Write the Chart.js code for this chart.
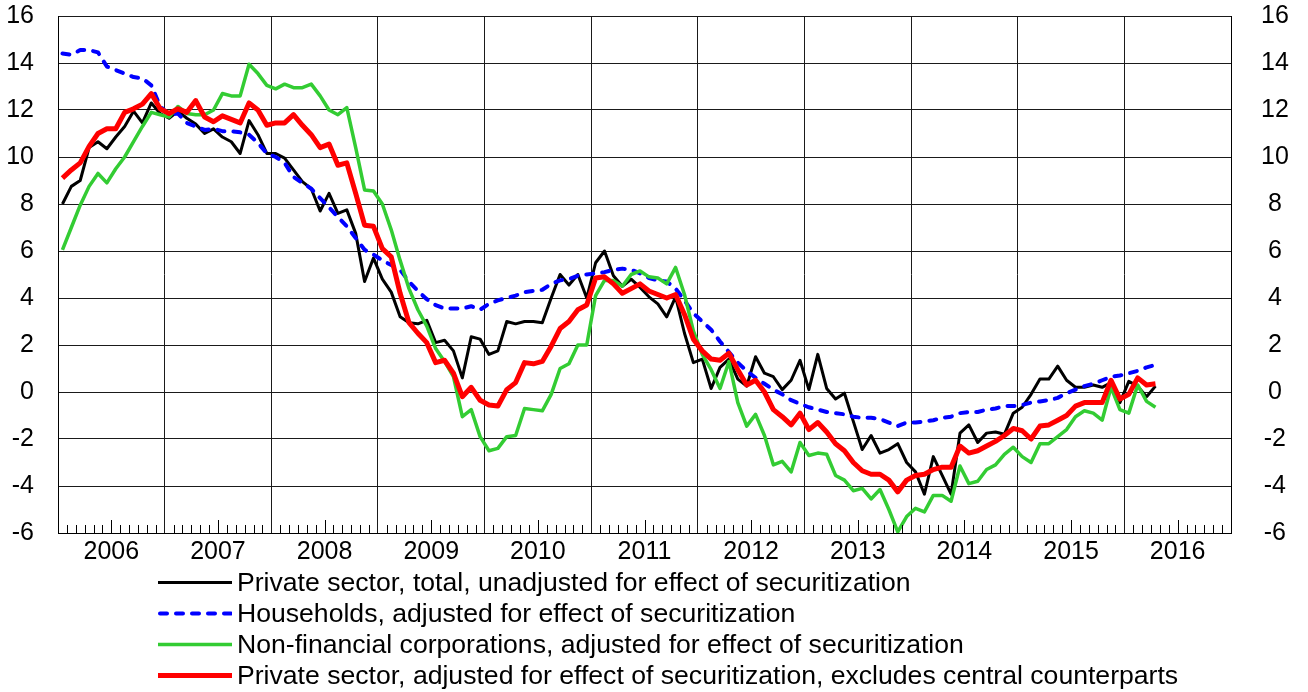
<!DOCTYPE html>
<html>
<head>
<meta charset="utf-8">
<script src="https://cdn.jsdelivr.net/npm/chart.js@4.4.1/dist/chart.umd.min.js"></script>
<style>
  body { margin: 0; background: #fff; }
  #wrap { position: relative; width: 1308px; height: 692px; }
  #c { position: absolute; left: 0; top: 0; }
  #legend { position: absolute; left: 158px; top: 567px; font-family: "Liberation Sans", Arial, sans-serif; font-size: 26.6px; color: #000; }
  #legend .row { display: flex; align-items: center; height: 31px; white-space: nowrap; }
  #legend svg { margin-right: 5px; flex: none; }
</style>
</head>
<body>
<div id="wrap">
  <canvas id="c" width="1308" height="568"></canvas>
  <div id="legend"></div>
</div>
<script>
// ================== DADOS ==================
const years = ["2006", "2007", "2008", "2009", "2010", "2011", "2012", "2013", "2014", "2015", "2016"];
const yTicks = [-6, -4, -2, 0, 2, 4, 6, 8, 10, 12, 14, 16];

const seriesNames = [
  "Private sector, total, unadjusted for effect of securitization",
  "Households, adjusted for effect of securitization",
  "Non-financial corporations, adjusted for effect of securitization",
  "Private sector, adjusted for effect of securitization, excludes central counterparts"
];

// monthly, Jan 2006 .. Apr 2016
const privTotal = [
  8.0, 8.75, 9.0, 10.4, 10.65, 10.35, 10.85, 11.3, 11.95, 11.45, 12.3, 11.85,
  11.65, 11.95, 11.65, 11.4, 11.0, 11.2, 10.85, 10.65, 10.15, 11.55, 10.95, 10.15,
  10.15, 9.95, 9.45, 8.95, 8.65, 7.7, 8.45, 7.6, 7.75, 6.75, 4.7, 5.7,
  4.8, 4.25, 3.2, 2.95, 2.9, 3.05, 2.1, 2.2, 1.75, 0.6, 2.35, 2.25,
  1.6, 1.75, 3.0, 2.9, 3.0, 3.0, 2.95, 4.0, 5.0, 4.55, 5.0, 4.0,
  5.5, 6.0, 4.95, 4.5, 4.8, 4.45, 4.05, 3.75, 3.2, 4.05, 2.5, 1.25,
  1.4, 0.15, 1.05, 1.4, 0.55, 0.25, 1.5, 0.8, 0.65, 0.1, 0.5, 1.35,
  0.1, 1.6, 0.15, -0.3, -0.05, -1.25, -2.45, -1.85, -2.6, -2.45, -2.2, -3.0,
  -3.4, -4.35, -2.75, -3.55, -4.35, -1.75, -1.4, -2.15, -1.75, -1.7, -1.8, -0.9,
  -0.65, -0.1, 0.55, 0.55, 1.1, 0.5, 0.2, 0.2, 0.3, 0.2, 0.4, -0.45,
  0.45, 0.25, -0.2, 0.25
];
const households = [
  14.4, 14.35, 14.55, 14.55, 14.45, 13.85, 13.7, 13.55, 13.4, 13.35, 13.05, 12.15,
  11.8, 11.85, 11.45, 11.3, 11.15, 11.2, 11.1, 11.1, 11.05, 10.95, 10.6, 10.15,
  10.0, 9.75, 9.15, 8.9, 8.65, 8.25, 7.85, 7.45, 7.05, 6.55, 6.05, 5.85,
  5.6, 5.4, 5.2, 4.7, 4.3, 3.95, 3.7, 3.55, 3.55, 3.55, 3.65, 3.5,
  3.75, 3.9, 4.0, 4.1, 4.25, 4.3, 4.35, 4.6, 4.75, 4.8, 4.95, 5.0,
  5.05, 5.1, 5.2, 5.25, 5.2, 5.05, 4.85, 4.75, 4.7, 4.4, 3.9, 3.35,
  3.0, 2.65, 2.15, 1.7, 1.25, 0.9, 0.6, 0.35, 0.1, -0.1, -0.35, -0.5,
  -0.65, -0.75, -0.85, -0.9, -0.95, -1.05, -1.1, -1.1, -1.15, -1.3, -1.45, -1.3,
  -1.3, -1.25, -1.2, -1.1, -1.05, -0.9, -0.85, -0.85, -0.75, -0.7, -0.6, -0.6,
  -0.55, -0.45, -0.4, -0.35, -0.25, -0.05, 0.1, 0.25, 0.35, 0.5, 0.65, 0.7,
  0.8, 0.9, 1.05, 1.15
];
const nonFinCorp = [
  6.05, 7.0, 7.95, 8.75, 9.3, 8.9, 9.5, 10.0, 10.65, 11.3, 11.9, 11.8,
  11.7, 12.15, 11.85, 11.8, 11.8, 12.0, 12.7, 12.6, 12.6, 13.95, 13.55, 13.05,
  12.9, 13.1, 12.95, 12.95, 13.1, 12.6, 12.0, 11.8, 12.1, 10.4, 8.6, 8.55,
  8.0, 6.9, 5.6, 4.4, 3.5, 2.8, 1.85, 1.3, 0.65, -1.05, -0.75, -1.9,
  -2.5, -2.4, -1.9, -1.85, -0.7, -0.75, -0.8, -0.1, 1.0, 1.2, 2.0, 2.0,
  4.1, 4.75, 4.75, 4.5, 5.0, 5.15, 4.9, 4.85, 4.6, 5.3, 4.15, 2.6,
  1.6, 0.95, 0.15, 1.3, -0.45, -1.45, -0.95, -1.85, -3.1, -2.95, -3.4, -2.15,
  -2.7, -2.6, -2.65, -3.55, -3.75, -4.2, -4.1, -4.55, -4.15, -5.0, -5.95, -5.3,
  -4.95, -5.1, -4.4, -4.4, -4.65, -3.15, -3.9, -3.8, -3.3, -3.1, -2.65, -2.35,
  -2.75, -3.0, -2.2, -2.2, -1.9, -1.6, -1.05, -0.8, -0.9, -1.2, 0.2, -0.75,
  -0.9, 0.3, -0.4, -0.65
];
const privAdjusted = [
  9.1, 9.45, 9.75, 10.45, 11.0, 11.2, 11.2, 11.9, 12.05, 12.25, 12.7, 12.05,
  11.85, 12.05, 11.9, 12.4, 11.7, 11.5, 11.75, 11.6, 11.45, 12.3, 12.0, 11.35,
  11.45, 11.45, 11.8, 11.35, 10.95, 10.4, 10.55, 9.65, 9.75, 8.45, 7.1, 7.05,
  6.1, 5.75, 4.2, 2.95, 2.5, 2.1, 1.25, 1.35, 0.8, -0.2, 0.2, -0.35,
  -0.55, -0.6, 0.1, 0.4, 1.25, 1.2, 1.3, 1.95, 2.7, 3.0, 3.5, 3.7,
  4.85, 4.9, 4.6, 4.2, 4.4, 4.6, 4.3, 4.15, 4.0, 4.15, 3.3, 2.25,
  1.75, 1.4, 1.35, 1.65, 0.95, 0.3, 0.5, 0.0, -0.75, -1.05, -1.4, -0.9,
  -1.6, -1.3, -1.7, -2.2, -2.5, -3.0, -3.35, -3.5, -3.5, -3.75, -4.25, -3.75,
  -3.55, -3.5, -3.3, -3.2, -3.2, -2.3, -2.6, -2.5, -2.3, -2.1, -1.85, -1.55,
  -1.65, -2.0, -1.45, -1.4, -1.2, -1.0, -0.6, -0.45, -0.45, -0.45, 0.5, -0.3,
  -0.1, 0.6, 0.3, 0.35
];

// ================== UTIL ==================
const FONT = "'Liberation Sans', Arial, sans-serif";
const MONTHS = years.length * 12;

// month i sits in the middle of its slot
function toPoints(arr) {
  return arr.map((v, i) => ({ x: i + 0.5, y: v }));
}

// short month ticks pointing up from the bottom axis, longer one mid-year
const monthTicks = {
  id: "monthTicks",
  afterDraw(chart) {
    const xs = chart.scales.x;
    const base = chart.scales.y.getPixelForValue(-6);
    const ctx = chart.ctx;
    ctx.save();
    ctx.strokeStyle = "#000";
    ctx.lineWidth = 1;
    ctx.beginPath();
    for (let m = 1; m < MONTHS; m++) {
      if (m % 12 === 0) continue;
      const px = Math.round(xs.getPixelForValue(m)) + 0.5;
      ctx.moveTo(px, base);
      ctx.lineTo(px, base - (m % 12 === 6 ? 13 : 8));
    }
    ctx.stroke();
    ctx.restore();
  }
};

// fixed axis sizes, no extra room for label overhang
function fixSize(w, h) {
  return s => {
    if (w != null) s.width = w;
    if (h != null) s.height = h;
    s.paddingTop = 0; s.paddingBottom = 0;
    s.paddingLeft = 0; s.paddingRight = 0;
  };
}

const yTickOpts = {
  font: { family: FONT, size: 25 },
  color: "#000"
};

// ================== GRÁFICO ==================
const chart = new Chart(document.getElementById("c"), {
  type: "line",
  data: {
    datasets: [
      { label: seriesNames[0], data: toPoints(privTotal), borderColor: "#000000", borderWidth: 3, order: 4 },
      { label: seriesNames[1], data: toPoints(households), borderColor: "#0000ff", borderWidth: 4, borderDash: [7, 9], borderCapStyle: "round", order: 3 },
      { label: seriesNames[2], data: toPoints(nonFinCorp), borderColor: "#33cc33", borderWidth: 3.5, order: 2 },
      { label: seriesNames[3], data: toPoints(privAdjusted), borderColor: "#ff0000", borderWidth: 5, order: 1 }
    ]
  },
  options: {
    responsive: false,
    animation: false,
    devicePixelRatio: 1,
    elements: {
      point: { radius: 0 },
      line: { tension: 0, borderJoinStyle: "round", fill: false }
    },
    layout: { padding: { top: 16, left: 0, right: 0, bottom: 0 } },
    plugins: { legend: { display: false }, tooltip: { enabled: false } },
    scales: {
      x: {
        type: "linear",
        min: 0,
        max: MONTHS,
        afterBuildTicks: s => { s.ticks = Array.from({ length: MONTHS + 1 }, (_, m) => ({ value: m })); },
        afterFit: fixSize(null, 35),
        grid: {
          drawTicks: false,
          color: c => (c.tick && c.tick.value % 12 === 0) ? "#1a1a1a" : "rgba(0,0,0,0)",
          lineWidth: 1
        },
        border: { display: true, color: "#000", width: 1 },
        ticks: {
          autoSkip: false,
          maxRotation: 0,
          minRotation: 0,
          padding: 4,
          font: { family: FONT, size: 25 },
          color: "#000",
          callback: v => (v % 12 === 6) ? years[Math.floor(v / 12)] : ""
        }
      },
      y: {
        position: "left",
        min: -6,
        max: 16,
        afterBuildTicks: s => { s.ticks = yTicks.map(v => ({ value: v })); },
        afterFit: fixSize(58, null),
        grid: { drawTicks: false, color: "#1a1a1a", lineWidth: 1 },
        border: { display: true, color: "#000", width: 1 },
        ticks: Object.assign({ padding: 24 }, yTickOpts)
      },
      y2: {
        position: "right",
        min: -6,
        max: 16,
        afterBuildTicks: s => { s.ticks = yTicks.map(v => ({ value: v })); },
        afterFit: fixSize(77, null),
        grid: { drawTicks: false, drawOnChartArea: false },
        border: { display: true, color: "#000", width: 1 },
        ticks: Object.assign({ padding: 30, crossAlign: "center" }, yTickOpts)
      }
    }
  },
  plugins: [monthTicks]
});

// ================== LEGENDA ==================
const legendEl = document.getElementById("legend");
chart.data.datasets.forEach(ds => {
  const row = document.createElement("div");
  row.className = "row";
  const dash = ds.borderDash ? `stroke-dasharray="${ds.borderDash.join(" ")}" stroke-linecap="round"` : "";
  row.innerHTML = `
    <svg width="74" height="31"><line x1="${ds.borderDash ? 2 : 0}" y1="15.5" x2="74" y2="15.5"
      stroke="${ds.borderColor}" stroke-width="${ds.borderWidth}" ${dash}></line></svg>
    <span>${ds.label}</span>`;
  legendEl.appendChild(row);
});
</script>
</body>
</html>
